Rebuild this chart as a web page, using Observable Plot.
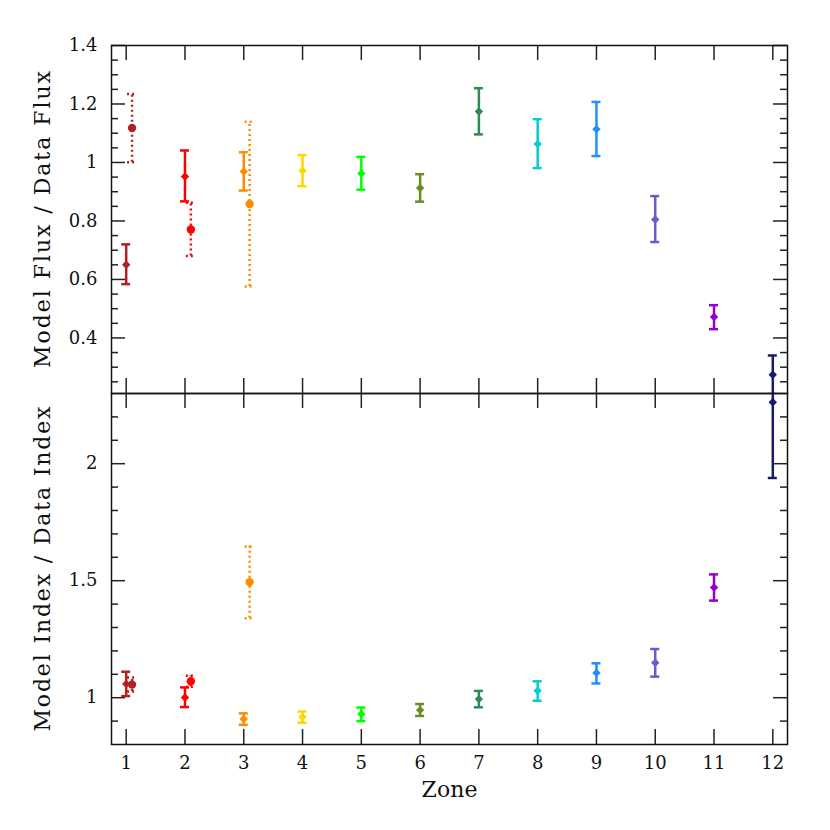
<!DOCTYPE html>
<html><head><meta charset="utf-8">
<script src="https://cdn.jsdelivr.net/npm/d3@7"></script>
<script src="https://cdn.jsdelivr.net/npm/@observablehq/plot@0.6"></script>
<style>
html,body{margin:0;padding:0;background:#fff;}
#chart{position:relative;width:830px;height:830px;overflow:hidden;background:#fff;}
#chart svg{position:absolute;left:0;overflow:visible;}
</style></head><body><div id="chart"></div>
<script>
// ---- data ----
const zones = [1, 2, 3, 4, 5, 6, 7, 8, 9, 10, 11, 12];
const zoneColors = ["#b22222", "#ff0000", "#ff8c00", "#ffd700", "#00ff00", "#6b8e23",
                    "#2e8b57", "#00ced1", "#1e90ff", "#6a5acd", "#9400d3", "#191970"];

const fluxRatio = [0.650, 0.952, 0.969, 0.972, 0.962, 0.913, 1.174, 1.063, 1.114, 0.805, 0.472, 0.274];
const fluxLow   = [0.584, 0.867, 0.904, 0.919, 0.907, 0.866, 1.096, 0.981, 1.022, 0.728, 0.430, 0.208];
const fluxHigh  = [0.720, 1.041, 1.035, 1.025, 1.019, 0.960, 1.254, 1.148, 1.207, 0.885, 0.512, 0.340];

const indexRatio = [1.059, 1.001, 0.909, 0.917, 0.930, 0.947, 0.994, 1.030, 1.106, 1.149, 1.471, 2.263];
const indexLow   = [1.007, 0.960, 0.884, 0.893, 0.900, 0.922, 0.959, 0.987, 1.061, 1.090, 1.415, 1.939];
const indexHigh  = [1.111, 1.044, 0.933, 0.941, 0.958, 0.973, 1.029, 1.070, 1.147, 1.208, 1.527, 2.587];

// alternate (dotted) measurements, plotted slightly right of the zone
const altZones = [1, 2, 3];
const altOffset = 0.1;
const altFluxRatio = [1.118, 0.771, 0.858];
const altFluxLow   = [1.001, 0.680, 0.576];
const altFluxHigh  = [1.234, 0.862, 1.139];
const altIndexRatio = [1.056, 1.070, 1.494];
const altIndexLow   = [1.027, 1.047, 1.340];
const altIndexHigh  = [1.086, 1.094, 1.646];

const fluxTicks = [0.4, 0.6, 0.8, 1, 1.2, 1.4];
const indexTicks = [1, 1.5, 2];
const xDomain = [0.75, 12.25];
const fluxDomain = [0.21, 1.4];
const indexDomain = [0.8, 2.3];

const fluxLabel = "Model Flux / Data Flux";
const indexLabel = "Model Index / Data Index";
const xLabel = "Zone";

// ---- drawing ----
const W = 830, ML = 111, MR = 43;
const FONT = "DejaVu Serif";

function rows(zs, v, lo, hi, off) {
  return zs.map((z, i) => ({zone: z, x: z + off, v: v[i], lo: lo[i], hi: hi[i], color: zoneColors[z - 1]}));
}

function errMarks(data, extra, capHalf) {
  return [
    Plot.ruleX(data, {x: "x", y1: "lo", y2: "hi", stroke: "color", strokeWidth: 2.5, clip: true, ...extra}),
    Plot.ruleY(data, {y: "hi", x1: d => d.x - capHalf, x2: d => d.x + capHalf, stroke: "color", strokeWidth: 2.5, clip: true, ...extra}),
    Plot.ruleY(data, {y: "lo", x1: d => d.x - capHalf, x2: d => d.x + capHalf, stroke: "color", strokeWidth: 2.5, clip: true, ...extra})
  ];
}

function panel({solid, dotted, yDomain, majors, minorStep, height, mt, mb, yLabel, showX}) {
  const plotW = W - ML - MR, plotH = height - mt - mb;
  const pxX = plotW / (xDomain[1] - xDomain[0]);
  const pxY = plotH / (yDomain[1] - yDomain[0]);
  const [x0, x1] = xDomain, [y0, y1] = yDomain;
  const minors = d3.range(Math.ceil(y0 / minorStep - 1e-9), Math.floor(y1 / minorStep + 1e-9) + 1)
    .map(k => +(k * minorStep).toFixed(4))
    .filter(v => v > y0 && v < y1 && !majors.some(m => Math.abs(m - v) < 1e-6));
  const capHalf = 4.5 / pxX;
  const tk = {stroke: "#222", strokeWidth: 1.5};
  const marks = [
    Plot.ruleY(majors, {y: d => d, x1: x0, x2: x0 + 14 / pxX, ...tk}),
    Plot.ruleY(majors, {y: d => d, x1: x1, x2: x1 - 14 / pxX, ...tk}),
    Plot.ruleY(minors, {y: d => d, x1: x0, x2: x0 + 7 / pxX, ...tk}),
    Plot.ruleY(minors, {y: d => d, x1: x1, x2: x1 - 7 / pxX, ...tk}),
    Plot.ruleX(zones, {x: d => d, y1: y0, y2: y0 + 15 / pxY, ...tk}),
    Plot.ruleX(zones, {x: d => d, y1: y1, y2: y1 - 15 / pxY, ...tk}),
    ...errMarks(solid, {}, capHalf),
    ...errMarks(dotted, {strokeDasharray: "2,3"}, capHalf),
    Plot.dot(solid, {x: "x", y: "v", fill: "color", r: 3.8, symbol: "diamond2", clip: true}),
    Plot.dot(dotted, {x: "x", y: "v", fill: "color", r: 4.2, symbol: "circle", clip: true}),
    Plot.frame({stroke: "#111", strokeWidth: 1.5}),
    Plot.text([yLabel], {text: d => d, frameAnchor: "left", textAnchor: "middle", dx: -69, rotate: -90, fontSize: 22, fill: "#111"})
  ];
  if (showX) marks.push(Plot.text([xLabel], {text: d => d, frameAnchor: "bottom", textAnchor: "middle", dy: 52, fontSize: 22, fill: "#111"}));
  return Plot.plot({
    width: W, height,
    marginLeft: ML, marginRight: MR, marginTop: mt, marginBottom: mb,
    style: {fontFamily: FONT, fontSize: "18px", color: "#111", background: "transparent", overflow: "visible"},
    x: {domain: xDomain, ticks: zones, tickSize: 0, tickPadding: 12, tickFormat: d => String(d), label: null, axis: showX ? "bottom" : null},
    y: {domain: yDomain, ticks: majors, tickSize: 0, tickPadding: 14, tickFormat: d => String(d), label: null},
    color: {type: "identity"},
    marks
  });
}

const topPanel = panel({
  solid: rows(zones, fluxRatio, fluxLow, fluxHigh, 0),
  dotted: rows(altZones, altFluxRatio, altFluxLow, altFluxHigh, altOffset),
  yDomain: fluxDomain, majors: fluxTicks, minorStep: 0.05,
  height: 394, mt: 45, mb: 1, yLabel: fluxLabel, showX: false
});
const bottomPanel = panel({
  solid: rows(zones, indexRatio, indexLow, indexHigh, 0),
  dotted: rows(altZones, altIndexRatio, altIndexLow, altIndexHigh, altOffset),
  yDomain: indexDomain, majors: indexTicks, minorStep: 0.1,
  height: 438, mt: 1, mb: 86, yLabel: indexLabel, showX: true
});
topPanel.style.top = "0px";
bottomPanel.style.top = "392px";
const chart = document.getElementById("chart");
chart.appendChild(topPanel);
chart.appendChild(bottomPanel);

// stretch the wide-set axis titles to the reference's lengths
const titleLengths = new Map([[fluxLabel, 297], [indexLabel, 325], [xLabel, 56]]);
d3.select(chart).selectAll("text").each(function () {
  const t = this.textContent;
  if (titleLengths.has(t)) {
    this.setAttribute("textLength", titleLengths.get(t));
    this.setAttribute("lengthAdjust", "spacing");
  }
});
</script></body></html>
